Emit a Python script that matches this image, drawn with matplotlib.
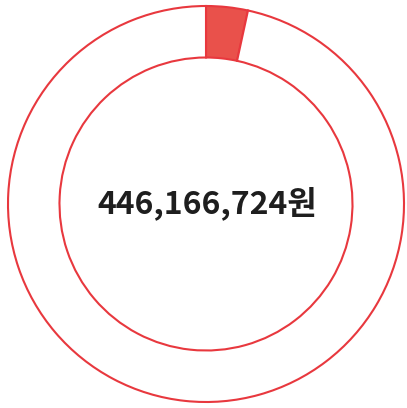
import matplotlib
matplotlib.use('Agg')
import matplotlib.pyplot as plt

# donut share (percent) and centre label
labels = ['달성', '잔여']
values = [3.4, 96.6]
total_text = '446,166,724원'

plt.rcParams['font.family'] = ['Noto Sans CJK KR', 'DejaVu Sans']

fig = plt.figure(figsize=(4.07, 4.08), dpi=100)
ax = fig.add_axes([0, 0, 1, 1])

ax.pie(values, labels=None, startangle=90, counterclock=False,
       center=(206, 204), radius=198,
       colors=['#e9514b', 'white'],
       wedgeprops=dict(width=51.5, edgecolor='#e8383e', linewidth=1.5))

ax.set_xlim(0, 407)
ax.set_ylim(0, 408)
ax.set_aspect('equal')
ax.axis('off')

ax.text(207.5, 205, total_text, ha='center', va='center',
        fontsize=23, fontweight='bold', color='#1e1e1e')

fig.savefig('out.png', dpi=100)
